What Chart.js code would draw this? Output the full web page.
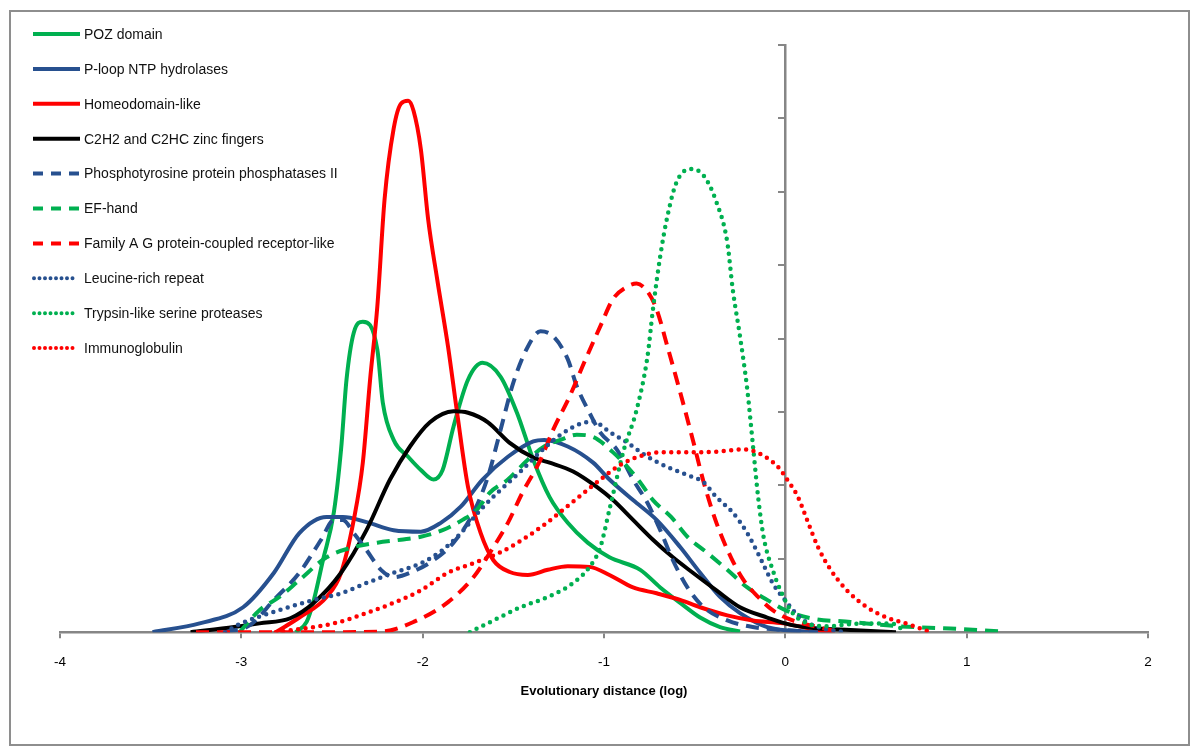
<!DOCTYPE html>
<html>
<head>
<meta charset="utf-8">
<script src="https://cdn.jsdelivr.net/npm/chart.js@4.4.1/dist/chart.umd.min.js"></script>
<style>
  html,body{margin:0;padding:0;background:#fff;}
  #wrap{width:1200px;height:755px;}
</style>
</head>
<body>
<div id="wrap"><canvas id="densityChart" width="1200" height="755"></canvas></div>
<script>
// series labels
const seriesNames = [
  'POZ domain',
  'P-loop NTP hydrolases',
  'Homeodomain-like',
  'C2H2 and C2HC zinc fingers',
  'Phosphotyrosine protein phosphatases II',
  'EF-hand',
  'Family A G protein-coupled receptor-like',
  'Leucine-rich repeat',
  'Trypsin-like serine proteases',
  'Immunoglobulin'
];

// x tick labels
const xTicks = [-4, -3, -2, -1, 0, 1, 2];

// curves (x = log distance, y = density)
const pozX = [-2.70,-2.64,-2.60,-2.55,-2.49,-2.45,-2.42,-2.38,-2.33,-2.25,-2.22,-2.16,-2.08,-2.01,-1.94,-1.89,-1.83,-1.75,-1.67,-1.57,-1.48,-1.39,-1.30,-1.20,-1.09,-0.97,-0.80,-0.69,-0.58,-0.47,-0.36,-0.25];
const pozY = [0,0.14,0.44,0.98,1.63,2.49,3.44,4.08,4.23,3.85,3.13,2.62,2.39,2.21,2.08,2.21,2.80,3.44,3.67,3.48,2.99,2.35,1.84,1.49,1.22,1.02,0.85,0.61,0.40,0.20,0.07,0.01];

const ploopX = [-3.49,-3.23,-2.99,-2.82,-2.68,-2.53,-2.44,-2.31,-2.16,-2.01,-1.90,-1.79,-1.67,-1.53,-1.39,-1.33,-1.20,-1.06,-0.97,-0.84,-0.71,-0.58,-0.47,-0.36,-0.25,-0.10,0.12,0.25];
const ploopY = [0,0.12,0.34,0.81,1.35,1.57,1.57,1.50,1.39,1.37,1.49,1.71,2.08,2.39,2.60,2.62,2.53,2.31,2.08,1.80,1.53,1.16,0.81,0.48,0.26,0.07,0.01,0];

const homeoX = [-2.81,-2.68,-2.53,-2.45,-2.38,-2.33,-2.29,-2.25,-2.21,-2.16,-2.12,-2.08,-2.05,-2.01,-1.97,-1.92,-1.86,-1.81,-1.75,-1.68,-1.61,-1.52,-1.42,-1.31,-1.20,-1.08,-0.97,-0.84,-0.71,-0.58,-0.47,-0.32,-0.18,-0.01,0.18,0.26];
const homeoY = [0,0.20,0.48,0.81,1.53,2.31,3.44,4.44,5.90,6.86,7.20,7.24,7.10,6.58,5.63,4.81,3.89,2.99,1.98,1.35,0.98,0.82,0.78,0.85,0.90,0.89,0.78,0.61,0.53,0.44,0.34,0.23,0.16,0.12,0.03,0];

const zincX = [-3.28,-3.04,-2.90,-2.73,-2.60,-2.45,-2.31,-2.18,-2.07,-1.96,-1.83,-1.75,-1.64,-1.52,-1.39,-1.30,-1.17,-1.04,-0.95,-0.84,-0.73,-0.62,-0.51,-0.38,-0.25,-0.10,0.03,0.18,0.36,0.61];
const zincY = [0,0.07,0.12,0.19,0.40,0.81,1.39,2.08,2.53,2.86,3.01,2.99,2.86,2.58,2.38,2.31,2.19,1.98,1.80,1.53,1.26,1.02,0.81,0.57,0.34,0.20,0.10,0.05,0.03,0];

const phosX = [-3.09,-2.95,-2.82,-2.68,-2.56,-2.49,-2.44,-2.38,-2.31,-2.23,-2.16,-2.07,-1.94,-1.83,-1.72,-1.64,-1.57,-1.50,-1.42,-1.35,-1.28,-1.20,-1.15,-1.08,-1.02,-0.93,-0.84,-0.76,-0.69,-0.62,-0.54,-0.45,-0.32,-0.18,-0.01,0.18];
const phosY = [0,0.10,0.44,0.81,1.26,1.53,1.53,1.35,1.12,0.85,0.75,0.81,0.98,1.22,1.63,2.12,2.76,3.40,3.89,4.10,4.03,3.72,3.35,2.99,2.72,2.49,2.08,1.76,1.39,0.98,0.61,0.34,0.16,0.07,0.03,0];

const efX = [-3.01,-2.90,-2.79,-2.68,-2.53,-2.38,-2.25,-2.12,-2.01,-1.89,-1.78,-1.70,-1.63,-1.53,-1.42,-1.33,-1.24,-1.15,-1.06,-0.95,-0.87,-0.80,-0.73,-0.63,-0.54,-0.43,-0.32,-0.21,-0.10,0.00,0.14,0.36,0.63,0.91,1.19];
const efY = [0,0.30,0.48,0.71,1.02,1.16,1.22,1.26,1.30,1.39,1.53,1.67,1.90,2.08,2.35,2.53,2.62,2.69,2.66,2.45,2.25,2.04,1.80,1.57,1.30,1.08,0.85,0.61,0.44,0.30,0.19,0.14,0.08,0.05,0.01];

const gpcrX = [-3.25,-2.51,-2.22,-2.05,-1.86,-1.72,-1.63,-1.53,-1.45,-1.35,-1.28,-1.19,-1.11,-1.02,-0.95,-0.87,-0.82,-0.76,-0.71,-0.65,-0.58,-0.51,-0.45,-0.38,-0.30,-0.23,-0.15,-0.07,0.04,0.18,0.30];
const gpcrY = [0,0,0.01,0.14,0.41,0.75,1.08,1.49,1.90,2.35,2.76,3.21,3.67,4.17,4.54,4.71,4.75,4.64,4.40,3.89,3.27,2.62,2.04,1.49,1.02,0.71,0.48,0.30,0.16,0.07,0];

const leuX = [-3.09,-3.01,-2.79,-2.60,-2.45,-2.31,-2.16,-2.01,-1.89,-1.79,-1.68,-1.57,-1.46,-1.35,-1.24,-1.13,-1.06,-0.97,-0.87,-0.76,-0.65,-0.54,-0.45,-0.38,-0.29,-0.21,-0.14,-0.07,0.01,0.08,0.18,0.33];
const leuY = [0,0.11,0.30,0.44,0.53,0.67,0.81,0.94,1.12,1.35,1.67,1.94,2.19,2.46,2.69,2.84,2.87,2.73,2.58,2.39,2.25,2.14,2.04,1.84,1.63,1.35,1.02,0.67,0.40,0.20,0.07,0];

const trypX = [-1.74,-1.61,-1.46,-1.31,-1.17,-1.08,-1.02,-0.97,-0.89,-0.82,-0.76,-0.73,-0.69,-0.65,-0.60,-0.52,-0.45,-0.38,-0.32,-0.29,-0.25,-0.21,-0.18,-0.15,-0.12,-0.07,-0.01,0.04,0.12,0.23,0.36,0.47,0.60,0.66];
const trypY = [0,0.16,0.34,0.48,0.67,0.89,1.16,1.67,2.49,3.03,3.76,4.40,5.12,5.67,6.13,6.31,6.22,5.86,5.31,4.67,4.03,3.31,2.58,1.84,1.30,0.85,0.48,0.26,0.12,0.08,0.11,0.12,0.11,0];

const immX = [-2.81,-2.49,-2.31,-2.16,-2.01,-1.86,-1.72,-1.57,-1.45,-1.31,-1.17,-1.02,-0.91,-0.80,-0.69,-0.54,-0.38,-0.23,-0.14,-0.04,0.01,0.07,0.12,0.18,0.25,0.34,0.45,0.56,0.69,0.80];
const immY = [0,0.12,0.26,0.40,0.57,0.81,0.94,1.09,1.26,1.50,1.78,2.08,2.28,2.40,2.45,2.45,2.46,2.49,2.43,2.25,2.08,1.84,1.53,1.16,0.85,0.57,0.34,0.20,0.10,0];

const GREEN = '#00b050', BLUE = '#27508f', RED = '#ff0000', BLACK = '#000000';
const SOLID = [], DASH = [13, 8], DOT = [0, 7.5];

const curves = [
  [pozX, pozY, GREEN, SOLID],
  [ploopX, ploopY, BLUE, SOLID],
  [homeoX, homeoY, RED, SOLID],
  [zincX, zincY, BLACK, SOLID],
  [phosX, phosY, BLUE, DASH],
  [efX, efY, GREEN, DASH],
  [gpcrX, gpcrY, RED, DASH],
  [leuX, leuY, BLUE, DOT],
  [trypX, trypY, GREEN, DOT],
  [immX, immY, RED, DOT]
];

function toPoints(xs, ys){
  return xs.map((x, i) => ({x: x, y: ys[i]}));
}

const datasets = curves.map((c, i) => ({
  label: seriesNames[i],
  data: toPoints(c[0], c[1]),
  borderColor: c[2],
  backgroundColor: c[2],
  borderWidth: c[3] === DOT ? 4.5 : 4,
  borderDash: c[3],
  borderCapStyle: c[3] === DOT ? 'round' : 'butt',
  pointRadius: 0,
  fill: false,
  showLine: true,
  cubicInterpolationMode: 'monotone',
  order: 10 - i
}));

// frame around the whole figure
const framePlugin = {
  id: 'frame',
  beforeDraw(chart){
    const ctx = chart.ctx;
    ctx.save();
    ctx.fillStyle = '#fff';
    ctx.fillRect(0, 0, chart.width, chart.height);
    ctx.strokeStyle = '#8e8e8e';
    ctx.lineWidth = 2;
    ctx.strokeRect(10, 11, 1179, 734);
    ctx.restore();
  }
};

// legend drawn in the upper left, like the original
const legendPlugin = {
  id: 'sideLegend',
  afterDraw(chart){
    const ctx = chart.ctx;
    ctx.save();
    chart.data.datasets.forEach((ds, i) => {
      const y = 34 + i * 34.9;
      ctx.beginPath();
      ctx.strokeStyle = ds.borderColor;
      ctx.lineWidth = 4;
      if (ds.borderDash === DOT) {
        ctx.setLineDash([0, 5.5]);
        ctx.lineCap = 'round';
        ctx.moveTo(34, y); ctx.lineTo(78, y);
      } else if (ds.borderDash === DASH) {
        ctx.setLineDash([10, 8]);
        ctx.lineCap = 'butt';
        ctx.moveTo(33, y); ctx.lineTo(80, y);
      } else {
        ctx.setLineDash([]);
        ctx.lineCap = 'butt';
        ctx.moveTo(33, y); ctx.lineTo(80, y);
      }
      ctx.stroke();
      ctx.setLineDash([]);
      ctx.fillStyle = '#111';
      ctx.font = '14px "Liberation Sans", Arial, sans-serif';
      ctx.textBaseline = 'middle';
      ctx.fillText(ds.label, 84, y + 1);
    });
    ctx.restore();
  }
};

new Chart(document.getElementById('densityChart'), {
  type: 'scatter',
  data: { datasets: datasets },
  options: {
    responsive: false,
    animation: false,
    events: [],
    layout: { padding: { left: 60, right: 52, top: 45, bottom: 56 } },
    plugins: { legend: { display: false }, tooltip: { enabled: false } },
    scales: {
      x: {
        type: 'linear',
        min: -4, max: 2,
        afterBuildTicks(scale){ scale.ticks = xTicks.map(v => ({value: v})); },
        ticks: {
          color: '#000',
          padding: 17,
          font: { family: '"Liberation Sans", Arial, sans-serif', size: 13.5, lineHeight: 1 },
          callback: v => String(v)
        },
        grid: { drawOnChartArea: false, drawTicks: true, tickLength: 6, color: '#868686', lineWidth: 2 },
        border: { color: '#868686', width: 2.5 },
        title: {
          display: true,
          text: 'Evolutionary distance (log)',
          color: '#000',
          padding: { top: -2.3, bottom: 0 },
          font: { family: '"Liberation Sans", Arial, sans-serif', size: 13, weight: 'bold' }
        }
      },
      y: {
        type: 'linear',
        position: { x: 0 },
        min: 0, max: 8,
        ticks: { stepSize: 1, display: false },
        grid: { drawOnChartArea: false, drawTicks: true, tickLength: 6, color: '#868686', lineWidth: 2 },
        border: { color: '#868686', width: 2.5 }
      }
    }
  },
  plugins: [framePlugin, legendPlugin]
});
</script>
</body>
</html>
